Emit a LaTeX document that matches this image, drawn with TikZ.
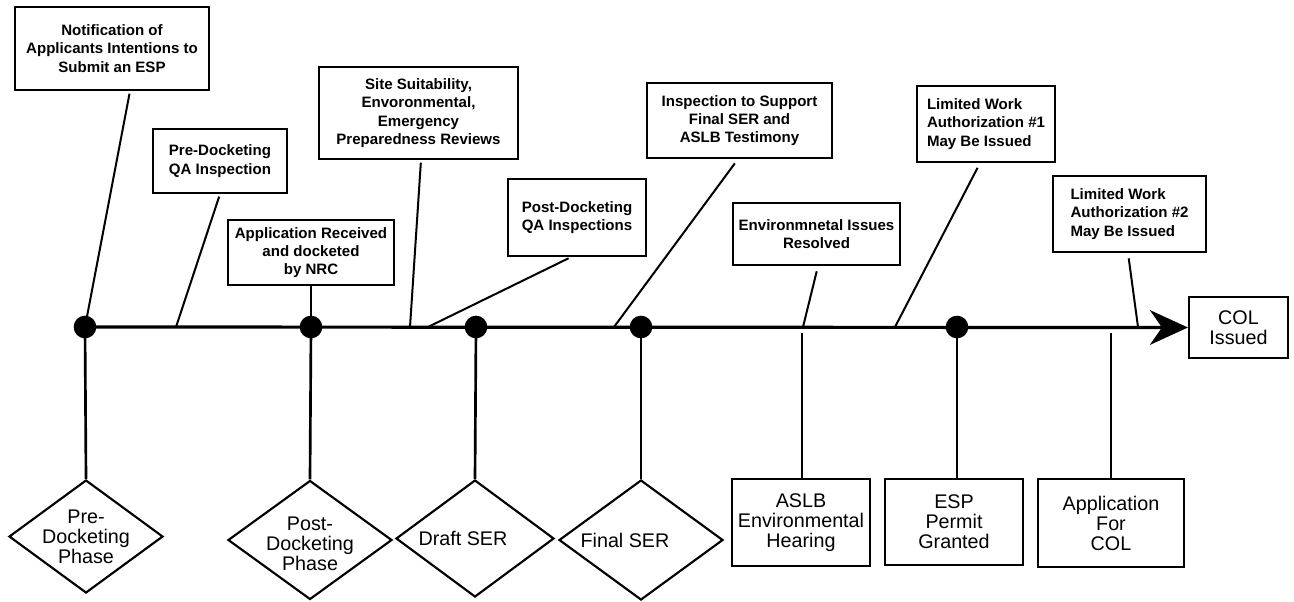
\documentclass[tikz,border=0pt]{standalone}
\usepackage{fontspec}
\setmainfont{Liberation Sans}
\usetikzlibrary{shapes.geometric,arrows.meta,calc}
\begin{document}
\begin{tikzpicture}[x=0.75pt,y=-0.75pt,
  tbox/.style={draw, line width=1.6pt, inner sep=0pt, align=center, font=\bfseries\fontsize{11.3}{13.7}\selectfont},
  lbox/.style={tbox, align=left},
  bbox/.style={draw, line width=1.6pt, inner sep=0pt, align=center, font=\fontsize{14.8}{15}\selectfont},
  dia/.style={draw, shape=diamond, line width=1.6pt, inner sep=0pt},
  dtext/.style={align=center, font=\fontsize{14.8}{15}\selectfont},
  dot/.style={circle, fill, inner sep=0pt, minimum size=17pt},
  conn/.style={line width=1.5pt, shorten <=2pt},
  drop/.style={line width=2pt},
  tl/.style={line width=2.4pt}]
\path[use as bounding box] (0,0) rectangle (1294,601);

% timeline coordinates
\coordinate (p1) at (85,327);
\coordinate (p2) at (311,327);
\coordinate (p3) at (476,327);
\coordinate (p4) at (641,327);
\coordinate (p5) at (957,327);
\coordinate (t2) at (176,327);
\coordinate (t4) at (410,327);
\coordinate (t5) at (428,327);
\coordinate (t6) at (614,327);
\coordinate (t7) at (803,327);
\coordinate (t8) at (895,327);
\coordinate (t9) at (1138,327);
\coordinate (u7) at (802,333);
\coordinate (u9) at (1111,333);

% top boxes
\node[tbox, minimum width=145.5pt, minimum height=62.25pt] (b1) at (112,48.5) {Notification of\\Applicants Intentions to\\Submit an ESP};
\node[lbox, minimum width=100.5pt, minimum height=48pt] (b2) at (220,161) {Pre-Docketing\\QA Inspection};
\node[tbox, minimum width=124.5pt, minimum height=48.75pt] (b3) at (311,252.5) {Application Received\\and docketed\\by NRC};
\node[tbox, minimum width=149.25pt, minimum height=69pt] (b4) at (418.5,113) {Site Suitability,\\Envoronmental,\\Emergency\\Preparedness Reviews};
\node[tbox, minimum width=103.5pt, minimum height=57.75pt] (b5) at (577,217.5) {Post-Docketing\\QA Inspections};
\node[tbox, minimum width=138.75pt, minimum height=56.25pt] (b6) at (739.5,120.5) {Inspection to Support\\Final SER and\\ASLB Testimony};
\node[tbox, minimum width=125.25pt, minimum height=46.5pt] (b7) at (816.5,234) {Environmnetal Issues\\Resolved};
\node[lbox, minimum width=103.5pt, minimum height=57pt] (b8) at (986,124) {Limited Work\\Authorization \#1\\May Be Issued};
\node[lbox, minimum width=114.75pt, minimum height=57pt] (b9) at (1129.5,214) {Limited Work\\Authorization \#2\\May Be Issued};

% end box
\node[bbox, minimum width=74.25pt, minimum height=45.75pt] (col) at (1238.5,327.5) {COL\\Issued};

% bottom boxes
\node[bbox, minimum width=103.5pt, minimum height=65.25pt] (aslb) at (801,522.5) {ASLB\\Environmental\\Hearing};
\node[bbox, minimum width=103.5pt, minimum height=64.5pt] (esp) at (954,522) {ESP\\Permit\\Granted};
\node[bbox, minimum width=109.5pt, minimum height=66pt] (app) at (1111,523) {Application\\For\\COL};

% diamonds
\node[dia, minimum width=115.5pt, minimum height=84.75pt, label={[dtext]center:{Pre-\\Docketing\\Phase}}] (d1) at (86,536.5) {};
\node[dia, minimum width=123pt, minimum height=89.25pt, label={[dtext,yshift=-3pt]center:{Post-\\Docketing\\Phase}}] (d2) at (310,540) {};
\node[dia, minimum width=118.5pt, minimum height=87.75pt, label={[dtext,xshift=-9pt]center:{Draft SER}}] (d3) at (475,538.5) {};
\node[dia, minimum width=123pt, minimum height=90pt, label={[dtext,xshift=-12pt]center:{Final SER}}] (d4) at (641,540) {};

% timeline
\draw[tl, -{Stealth[length=28.5pt,width=26pt,inset=9pt]}] (p1) -- (col.west);

% connectors from top boxes
\draw[conn] ($(b1.south)+(18,0)$) -- (p1);
\draw[conn] ($(b2.south)+(0,0)$) -- (t2);
\draw[drop] (b3.south) -- (p2);
\draw[conn] ($(b4.south)+(2.5,0)$) -- (t4);
\draw[conn] ($(b5.south)+(-6,0)$) -- (t5);
\draw[conn, shorten <=4pt] ($(b6.south)+(-1.5,0)$) -- (t6);
\draw[conn, shorten <=4pt] ($(b7.south)+(1.5,0)$) -- (t7);
\draw[conn, shorten <=4pt] ($(b8.south)+(-6,0)$) -- (t8);
\draw[conn, shorten <=4pt] ($(b9.south)+(-1.5,0)$) -- (t9);

% drops to bottom shapes
\draw[drop] (p1) -- (d1.north);
\draw[drop] (p2) -- (d2.north);
\draw[drop] (p3) -- (d3.north);
\draw[drop] (p4) -- (d4.north);
\draw[drop] (u7) -- (u7 |- aslb.north);
\draw[drop] (p5) -- (p5 |- esp.north);
\draw[drop] (u9) -- (u9 |- app.north);

% milestone dots
\node[dot] (m1) at (p1) {};
\node[dot] (m2) at (p2) {};
\node[dot] (m3) at (p3) {};
\node[dot] (m4) at (p4) {};
\node[dot] (m5) at (p5) {};
\end{tikzpicture}
\end{document}
